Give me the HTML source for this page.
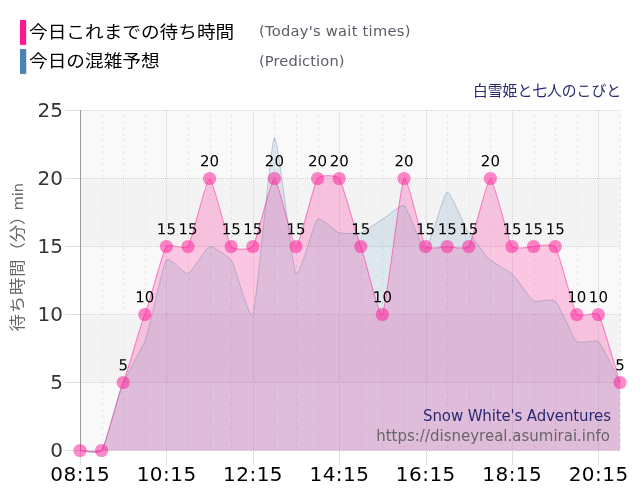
<!DOCTYPE html>
<html lang="ja">
<head>
<meta charset="utf-8">
<title>白雪姫と七人のこびと 待ち時間</title>
<style>
html,body{margin:0;padding:0;background:#fff;}
body{width:640px;height:500px;overflow:hidden;}
svg{display:block;}
</style>
</head>
<body>
<svg width="640" height="500" viewBox="0 0 640 500">
<rect width="640" height="500" fill="#fff"/>
<rect x="80" y="382.5" width="540.5" height="68" fill="#f9f9f9"/>
<rect x="80" y="314.5" width="540.5" height="68" fill="#f3f3f3"/>
<rect x="80" y="246.5" width="540.5" height="68" fill="#f9f9f9"/>
<rect x="80" y="178.5" width="540.5" height="68" fill="#f3f3f3"/>
<rect x="80" y="110.5" width="540.5" height="68" fill="#f9f9f9"/>
<line x1="81" y1="450.5" x2="621" y2="450.5" stroke="#cfcfcf" stroke-width="1" stroke-dasharray="1 1"/>
<line x1="65" y1="450.5" x2="80" y2="450.5" stroke="#dedede" stroke-width="1"/>
<line x1="81" y1="382.5" x2="621" y2="382.5" stroke="#cfcfcf" stroke-width="1" stroke-dasharray="1 1"/>
<line x1="65" y1="382.5" x2="80" y2="382.5" stroke="#dedede" stroke-width="1"/>
<line x1="81" y1="314.5" x2="621" y2="314.5" stroke="#cfcfcf" stroke-width="1" stroke-dasharray="1 1"/>
<line x1="65" y1="314.5" x2="80" y2="314.5" stroke="#dedede" stroke-width="1"/>
<line x1="81" y1="246.5" x2="621" y2="246.5" stroke="#cfcfcf" stroke-width="1" stroke-dasharray="1 1"/>
<line x1="65" y1="246.5" x2="80" y2="246.5" stroke="#dedede" stroke-width="1"/>
<line x1="81" y1="178.5" x2="621" y2="178.5" stroke="#cfcfcf" stroke-width="1" stroke-dasharray="1 1"/>
<line x1="65" y1="178.5" x2="80" y2="178.5" stroke="#dedede" stroke-width="1"/>
<line x1="81" y1="110.5" x2="621" y2="110.5" stroke="#cfcfcf" stroke-width="1" stroke-dasharray="1 1"/>
<line x1="65" y1="110.5" x2="80" y2="110.5" stroke="#dedede" stroke-width="1"/>
<line x1="102.5" y1="115" x2="102.5" y2="450" stroke="#e4e9ef" stroke-width="1" stroke-dasharray="3 3"/>
<line x1="123.5" y1="115" x2="123.5" y2="450" stroke="#e4e9ef" stroke-width="1" stroke-dasharray="3 3"/>
<line x1="145.5" y1="115" x2="145.5" y2="450" stroke="#e4e9ef" stroke-width="1" stroke-dasharray="3 3"/>
<line x1="166.5" y1="110" x2="166.5" y2="450" stroke="#ccd5e0" stroke-width="1" stroke-dasharray="1 1"/>
<line x1="188.5" y1="115" x2="188.5" y2="450" stroke="#e4e9ef" stroke-width="1" stroke-dasharray="3 3"/>
<line x1="210.5" y1="115" x2="210.5" y2="450" stroke="#e4e9ef" stroke-width="1" stroke-dasharray="3 3"/>
<line x1="231.5" y1="115" x2="231.5" y2="450" stroke="#e4e9ef" stroke-width="1" stroke-dasharray="3 3"/>
<line x1="253.5" y1="110" x2="253.5" y2="450" stroke="#ccd5e0" stroke-width="1" stroke-dasharray="1 1"/>
<line x1="274.5" y1="115" x2="274.5" y2="450" stroke="#e4e9ef" stroke-width="1" stroke-dasharray="3 3"/>
<line x1="296.5" y1="115" x2="296.5" y2="450" stroke="#e4e9ef" stroke-width="1" stroke-dasharray="3 3"/>
<line x1="318.5" y1="115" x2="318.5" y2="450" stroke="#e4e9ef" stroke-width="1" stroke-dasharray="3 3"/>
<line x1="339.5" y1="110" x2="339.5" y2="450" stroke="#ccd5e0" stroke-width="1" stroke-dasharray="1 1"/>
<line x1="361.5" y1="115" x2="361.5" y2="450" stroke="#e4e9ef" stroke-width="1" stroke-dasharray="3 3"/>
<line x1="382.5" y1="115" x2="382.5" y2="450" stroke="#e4e9ef" stroke-width="1" stroke-dasharray="3 3"/>
<line x1="404.5" y1="115" x2="404.5" y2="450" stroke="#e4e9ef" stroke-width="1" stroke-dasharray="3 3"/>
<line x1="426.5" y1="110" x2="426.5" y2="450" stroke="#ccd5e0" stroke-width="1" stroke-dasharray="1 1"/>
<line x1="447.5" y1="115" x2="447.5" y2="450" stroke="#e4e9ef" stroke-width="1" stroke-dasharray="3 3"/>
<line x1="469.5" y1="115" x2="469.5" y2="450" stroke="#e4e9ef" stroke-width="1" stroke-dasharray="3 3"/>
<line x1="490.5" y1="115" x2="490.5" y2="450" stroke="#e4e9ef" stroke-width="1" stroke-dasharray="3 3"/>
<line x1="512.5" y1="110" x2="512.5" y2="450" stroke="#ccd5e0" stroke-width="1" stroke-dasharray="1 1"/>
<line x1="534.5" y1="115" x2="534.5" y2="450" stroke="#e4e9ef" stroke-width="1" stroke-dasharray="3 3"/>
<line x1="555.5" y1="115" x2="555.5" y2="450" stroke="#e4e9ef" stroke-width="1" stroke-dasharray="3 3"/>
<line x1="577.5" y1="115" x2="577.5" y2="450" stroke="#e4e9ef" stroke-width="1" stroke-dasharray="3 3"/>
<line x1="598.5" y1="110" x2="598.5" y2="450" stroke="#ccd5e0" stroke-width="1" stroke-dasharray="1 1"/>
<line x1="620.5" y1="115" x2="620.5" y2="450" stroke="#e4e9ef" stroke-width="1" stroke-dasharray="3 3"/>
<line x1="80.5" y1="451" x2="80.5" y2="465" stroke="#dedede" stroke-width="1"/>
<line x1="166.5" y1="451" x2="166.5" y2="465" stroke="#dedede" stroke-width="1"/>
<line x1="253.5" y1="451" x2="253.5" y2="465" stroke="#dedede" stroke-width="1"/>
<line x1="339.5" y1="451" x2="339.5" y2="465" stroke="#dedede" stroke-width="1"/>
<line x1="426.5" y1="451" x2="426.5" y2="465" stroke="#dedede" stroke-width="1"/>
<line x1="512.5" y1="451" x2="512.5" y2="465" stroke="#dedede" stroke-width="1"/>
<line x1="598.5" y1="451" x2="598.5" y2="465" stroke="#dedede" stroke-width="1"/>
<line x1="80.5" y1="110" x2="80.5" y2="451" stroke="#9a9a9a" stroke-width="1"/>
<path d="M80.0,450.5C81.8,450.5,98.0,454.3,101.6,450.5C105.2,446.7,119.6,390.1,123.2,382.5C126.8,374.9,141.2,322.1,144.8,314.5C148.4,306.9,162.8,250.3,166.4,246.5C170.0,242.7,184.4,250.3,188.0,246.5C191.6,242.7,206.0,178.5,209.6,178.5C213.2,178.5,227.6,242.7,231.2,246.5C234.8,250.3,249.2,250.3,252.8,246.5C256.4,242.7,270.8,178.5,274.4,178.5C278.0,178.5,292.4,246.5,296.0,246.5C299.6,246.5,314.0,182.3,317.6,178.5C321.2,174.7,335.6,174.7,339.2,178.5C342.8,182.3,357.2,238.9,360.8,246.5C364.4,254.1,378.8,318.3,382.4,314.5C386.0,310.7,400.4,182.3,404.0,178.5C407.6,174.7,422.0,242.7,425.6,246.5C429.2,250.3,443.6,246.5,447.2,246.5C450.8,246.5,465.2,250.3,468.8,246.5C472.4,242.7,486.8,178.5,490.4,178.5C494.0,178.5,508.4,242.7,512.0,246.5C515.6,250.3,530.0,246.5,533.6,246.5C537.2,246.5,551.6,242.7,555.2,246.5C558.8,250.3,573.2,310.7,576.8,314.5C580.4,318.3,594.8,310.7,598.4,314.5C602.0,318.3,618.2,378.7,620.0,382.5L620.0,450.5 L80.0,450.5 Z" fill="#ff1493" fill-opacity="0.22" stroke="none"/>
<path d="M80.0,450.5C81.8,450.5,98.0,454.3,101.6,450.5C105.2,446.7,119.6,388.5,123.2,382.5C126.8,376.5,141.2,348.5,144.8,341.7C148.4,334.9,162.8,263.9,166.4,260.1C170.0,256.3,184.4,274.5,188.0,273.7C191.6,272.9,206.0,247.3,209.6,246.5C213.2,245.7,227.6,256.3,231.2,260.1C234.8,263.9,249.2,321.3,252.8,314.5C256.4,307.7,270.8,140.0,274.4,137.7C278.0,135.4,292.4,269.2,296.0,273.7C299.6,278.2,314.0,221.6,317.6,219.3C321.2,217.0,335.6,232.1,339.2,232.9C342.8,233.7,357.2,233.7,360.8,232.9C364.4,232.1,378.8,220.8,382.4,219.3C386.0,217.8,400.4,204.0,404.0,205.7C407.6,207.4,422.0,250.0,425.6,249.2C429.2,248.5,443.6,193.0,447.2,192.1C450.8,191.2,465.2,229.1,468.8,232.9C472.4,236.7,486.8,257.8,490.4,260.1C494.0,262.4,508.4,271.4,512.0,273.7C515.6,276.0,530.0,299.4,533.6,300.9C537.2,302.4,551.6,298.6,555.2,300.9C558.8,303.2,573.2,339.4,576.8,341.7C580.4,344.0,594.8,339.4,598.4,341.7C602.0,344.0,618.2,380.2,620.0,382.5L620.0,450.5 L80.0,450.5 Z" fill="#4682b4" fill-opacity="0.14" stroke="none"/>
<path d="M80.0,450.5C81.8,450.5,98.0,454.3,101.6,450.5C105.2,446.7,119.6,390.1,123.2,382.5C126.8,374.9,141.2,322.1,144.8,314.5C148.4,306.9,162.8,250.3,166.4,246.5C170.0,242.7,184.4,250.3,188.0,246.5C191.6,242.7,206.0,178.5,209.6,178.5C213.2,178.5,227.6,242.7,231.2,246.5C234.8,250.3,249.2,250.3,252.8,246.5C256.4,242.7,270.8,178.5,274.4,178.5C278.0,178.5,292.4,246.5,296.0,246.5C299.6,246.5,314.0,182.3,317.6,178.5C321.2,174.7,335.6,174.7,339.2,178.5C342.8,182.3,357.2,238.9,360.8,246.5C364.4,254.1,378.8,318.3,382.4,314.5C386.0,310.7,400.4,182.3,404.0,178.5C407.6,174.7,422.0,242.7,425.6,246.5C429.2,250.3,443.6,246.5,447.2,246.5C450.8,246.5,465.2,250.3,468.8,246.5C472.4,242.7,486.8,178.5,490.4,178.5C494.0,178.5,508.4,242.7,512.0,246.5C515.6,250.3,530.0,246.5,533.6,246.5C537.2,246.5,551.6,242.7,555.2,246.5C558.8,250.3,573.2,310.7,576.8,314.5C580.4,318.3,594.8,310.7,598.4,314.5C602.0,318.3,618.2,378.7,620.0,382.5" fill="none" stroke="#ff1493" stroke-opacity="0.45" stroke-width="1.1"/>
<path d="M80.0,450.5C81.8,450.5,98.0,454.3,101.6,450.5C105.2,446.7,119.6,388.5,123.2,382.5C126.8,376.5,141.2,348.5,144.8,341.7C148.4,334.9,162.8,263.9,166.4,260.1C170.0,256.3,184.4,274.5,188.0,273.7C191.6,272.9,206.0,247.3,209.6,246.5C213.2,245.7,227.6,256.3,231.2,260.1C234.8,263.9,249.2,321.3,252.8,314.5C256.4,307.7,270.8,140.0,274.4,137.7C278.0,135.4,292.4,269.2,296.0,273.7C299.6,278.2,314.0,221.6,317.6,219.3C321.2,217.0,335.6,232.1,339.2,232.9C342.8,233.7,357.2,233.7,360.8,232.9C364.4,232.1,378.8,220.8,382.4,219.3C386.0,217.8,400.4,204.0,404.0,205.7C407.6,207.4,422.0,250.0,425.6,249.2C429.2,248.5,443.6,193.0,447.2,192.1C450.8,191.2,465.2,229.1,468.8,232.9C472.4,236.7,486.8,257.8,490.4,260.1C494.0,262.4,508.4,271.4,512.0,273.7C515.6,276.0,530.0,299.4,533.6,300.9C537.2,302.4,551.6,298.6,555.2,300.9C558.8,303.2,573.2,339.4,576.8,341.7C580.4,344.0,594.8,339.4,598.4,341.7C602.0,344.0,618.2,380.2,620.0,382.5" fill="none" stroke="#6a7fa8" stroke-opacity="0.38" stroke-width="1"/>
<circle cx="80.0" cy="450.5" r="6.6" fill="#ff1493" fill-opacity="0.5"/>
<circle cx="101.6" cy="450.5" r="6.6" fill="#ff1493" fill-opacity="0.5"/>
<circle cx="123.2" cy="382.5" r="6.6" fill="#ff1493" fill-opacity="0.5"/>
<circle cx="144.8" cy="314.5" r="6.6" fill="#ff1493" fill-opacity="0.5"/>
<circle cx="166.4" cy="246.5" r="6.6" fill="#ff1493" fill-opacity="0.5"/>
<circle cx="188.0" cy="246.5" r="6.6" fill="#ff1493" fill-opacity="0.5"/>
<circle cx="209.6" cy="178.5" r="6.6" fill="#ff1493" fill-opacity="0.5"/>
<circle cx="231.2" cy="246.5" r="6.6" fill="#ff1493" fill-opacity="0.5"/>
<circle cx="252.8" cy="246.5" r="6.6" fill="#ff1493" fill-opacity="0.5"/>
<circle cx="274.4" cy="178.5" r="6.6" fill="#ff1493" fill-opacity="0.5"/>
<circle cx="296.0" cy="246.5" r="6.6" fill="#ff1493" fill-opacity="0.5"/>
<circle cx="317.6" cy="178.5" r="6.6" fill="#ff1493" fill-opacity="0.5"/>
<circle cx="339.2" cy="178.5" r="6.6" fill="#ff1493" fill-opacity="0.5"/>
<circle cx="360.8" cy="246.5" r="6.6" fill="#ff1493" fill-opacity="0.5"/>
<circle cx="382.4" cy="314.5" r="6.6" fill="#ff1493" fill-opacity="0.5"/>
<circle cx="404.0" cy="178.5" r="6.6" fill="#ff1493" fill-opacity="0.5"/>
<circle cx="425.6" cy="246.5" r="6.6" fill="#ff1493" fill-opacity="0.5"/>
<circle cx="447.2" cy="246.5" r="6.6" fill="#ff1493" fill-opacity="0.5"/>
<circle cx="468.8" cy="246.5" r="6.6" fill="#ff1493" fill-opacity="0.5"/>
<circle cx="490.4" cy="178.5" r="6.6" fill="#ff1493" fill-opacity="0.5"/>
<circle cx="512.0" cy="246.5" r="6.6" fill="#ff1493" fill-opacity="0.5"/>
<circle cx="533.6" cy="246.5" r="6.6" fill="#ff1493" fill-opacity="0.5"/>
<circle cx="555.2" cy="246.5" r="6.6" fill="#ff1493" fill-opacity="0.5"/>
<circle cx="576.8" cy="314.5" r="6.6" fill="#ff1493" fill-opacity="0.5"/>
<circle cx="598.4" cy="314.5" r="6.6" fill="#ff1493" fill-opacity="0.5"/>
<circle cx="620.0" cy="382.5" r="6.6" fill="#ff1493" fill-opacity="0.5"/>
<g font-family="'DejaVu Sans', 'Liberation Sans', sans-serif" font-size="15" fill="#000" text-anchor="middle">
<text transform="translate(123.2,370.3) rotate(0.03)">5</text>
<text transform="translate(144.8,302.3) rotate(0.03)">10</text>
<text transform="translate(166.4,234.3) rotate(0.03)">15</text>
<text transform="translate(188.0,234.3) rotate(0.03)">15</text>
<text transform="translate(209.6,166.3) rotate(0.03)">20</text>
<text transform="translate(231.2,234.3) rotate(0.03)">15</text>
<text transform="translate(252.8,234.3) rotate(0.03)">15</text>
<text transform="translate(274.4,166.3) rotate(0.03)">20</text>
<text transform="translate(296.0,234.3) rotate(0.03)">15</text>
<text transform="translate(317.6,166.3) rotate(0.03)">20</text>
<text transform="translate(339.2,166.3) rotate(0.03)">20</text>
<text transform="translate(360.8,234.3) rotate(0.03)">15</text>
<text transform="translate(382.4,302.3) rotate(0.03)">10</text>
<text transform="translate(404.0,166.3) rotate(0.03)">20</text>
<text transform="translate(425.6,234.3) rotate(0.03)">15</text>
<text transform="translate(447.2,234.3) rotate(0.03)">15</text>
<text transform="translate(468.8,234.3) rotate(0.03)">15</text>
<text transform="translate(490.4,166.3) rotate(0.03)">20</text>
<text transform="translate(512.0,234.3) rotate(0.03)">15</text>
<text transform="translate(533.6,234.3) rotate(0.03)">15</text>
<text transform="translate(555.2,234.3) rotate(0.03)">15</text>
<text transform="translate(576.8,302.3) rotate(0.03)">10</text>
<text transform="translate(598.4,302.3) rotate(0.03)">10</text>
<text transform="translate(620.0,370.3) rotate(0.03)">5</text>
</g>
<g font-family="'DejaVu Sans', 'Liberation Sans', sans-serif" font-size="20" fill="#333" text-anchor="end">
<text x="63" y="457">0</text>
<text x="63" y="389">5</text>
<text x="63" y="321">10</text>
<text x="63" y="253">15</text>
<text x="63" y="185">20</text>
<text x="63" y="117">25</text>
</g>
<g font-family="'DejaVu Sans', 'Liberation Sans', sans-serif" font-size="20" fill="#000" text-anchor="middle">
<text id="xl0" x="80.0" y="481.3" textLength="59.50" lengthAdjust="spacing">08:15</text>
<text id="xl4" x="166.4" y="481.3" textLength="59.50" lengthAdjust="spacing">10:15</text>
<text id="xl8" x="252.8" y="481.3" textLength="59.50" lengthAdjust="spacing">12:15</text>
<text id="xl12" x="339.2" y="481.3" textLength="59.50" lengthAdjust="spacing">14:15</text>
<text id="xl16" x="425.6" y="481.3" textLength="59.50" lengthAdjust="spacing">16:15</text>
<text id="xl20" x="512.0" y="481.3" textLength="59.50" lengthAdjust="spacing">18:15</text>
<text id="xl24" x="598.4" y="481.3" textLength="59.50" lengthAdjust="spacing">20:15</text>
</g>
<text id="yt1" transform="translate(22.7,331.5) rotate(-90) scale(1,0.90)" font-family="'DejaVu Sans', 'Noto Sans CJK JP', sans-serif" font-size="17.33" letter-spacing="0.9" fill="#666">待ち時間</text>
<text id="yt3" transform="translate(22.7,259.6) rotate(-90) scale(1,0.90)" font-family="'DejaVu Sans', 'Noto Sans CJK JP', sans-serif" font-size="17.33" fill="#666">（分）</text>
<text id="yt2" transform="translate(23.4,210.3) rotate(-90)" font-family="'DejaVu Sans', 'Liberation Sans', sans-serif" font-size="14.5" fill="#666">min</text>
<rect x="20.8" y="20.8" width="6" height="24.6" fill="#d4d4d8"/>
<rect x="20.8" y="49.8" width="6" height="24.4" fill="#d4d4d8"/>
<rect x="20" y="20" width="6" height="24.8" fill="#ff1893"/>
<rect x="20" y="49" width="6" height="24.8" fill="#4a84b6"/>
<text id="lg1" transform="translate(29,38) scale(1,0.9)" font-family="'Liberation Sans', 'Noto Sans CJK JP', sans-serif" font-size="18.67" fill="#000">今日これまでの待ち時間</text>
<text id="lg2" transform="translate(29,66.8) scale(1,0.9)" font-family="'Liberation Sans', 'Noto Sans CJK JP', sans-serif" font-size="18.67" fill="#000">今日の混雑予想</text>
<text id="en1" x="259" y="36" font-family="'DejaVu Sans', 'Liberation Sans', sans-serif" font-size="14.67" fill="#5c5c68" textLength="151.40" lengthAdjust="spacing">(Today's wait times)</text>
<text id="en2" x="259" y="66" font-family="'DejaVu Sans', 'Liberation Sans', sans-serif" font-size="14.67" fill="#5c5c68" textLength="85.50" lengthAdjust="spacing">(Prediction)</text>
<text id="t1" x="621" y="96" font-family="'Liberation Sans', 'Noto Sans CJK JP', sans-serif" font-size="14.8" fill="#2a2a72" text-anchor="end">白雪姫と七人のこびと</text>
<text id="t2" x="611" y="421" font-family="'DejaVu Sans', 'Liberation Sans', sans-serif" font-size="15" fill="#2a2a72" text-anchor="end" textLength="187.90" lengthAdjust="spacing">Snow White's Adventures</text>
<text id="t3" x="610" y="441" font-family="'DejaVu Sans', 'Liberation Sans', sans-serif" font-size="15" fill="#666" text-anchor="end">https://disneyreal.asumirai.info</text>
</svg>
</body>
</html>
